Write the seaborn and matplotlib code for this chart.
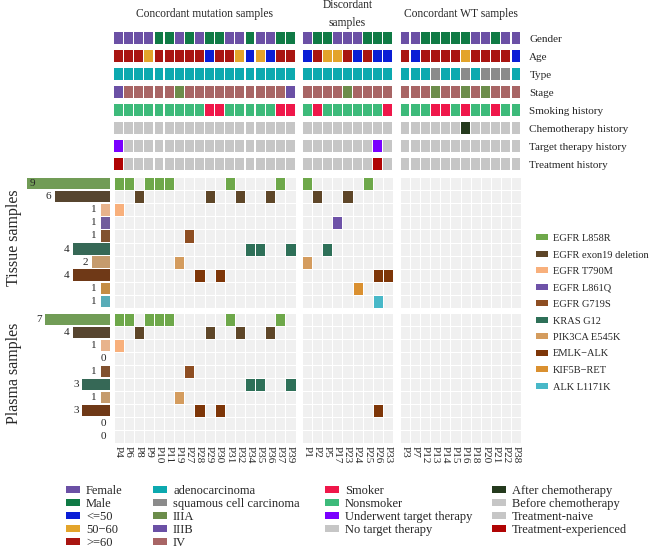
import numpy as np
import pandas as pd
import matplotlib
matplotlib.use("Agg")
import matplotlib.pyplot as plt
import seaborn as sns
from matplotlib.colors import ListedColormap
from matplotlib.patches import Patch

sns.set_theme(style="white")
plt.rcParams["font.family"] = ["Liberation Serif", "DejaVu Serif"]

# ---- samples -------------------------------------------------------------
group_names = ["Concordant mutation samples", "Discordant\nsamples", "Concordant WT samples"]
group_samples = [
    ["P4", "P6", "P8", "P9", "P10", "P11", "P19", "P27", "P28", "P29", "P30",
     "P31", "P32", "P34", "P35", "P36", "P37", "P39"],
    ["P1", "P2", "P5", "P17", "P23", "P24", "P25", "P26", "P33"],
    ["P3", "P7", "P12", "P13", "P14", "P15", "P16", "P18", "P20", "P21", "P22", "P38"],
]

# ---- clinical annotations (one code per sample, per group) -----------------
gender    = ["FFFFMMFMFMMFFMFFMM", "FMMFFFMMM", "FFMMMMMFFMFF"]
age       = ["HHHMHHHHHLHHMLMLHH", "LHMMHLHLL", "HLHHHHMHHHHL"]
histology = ["AAAAAAAAAAAAAAAAAA", "AAAAAAAAA", "AAASAASASSSA"]
stage     = ["bcccccaccccccccccb", "ccccacccc", "cccaccacaccc"]
smoking   = ["NNNNNNNNNSSNNNNNSS", "NSNNNNNNS", "NNNSSNSNNSNN"]
chemo     = ["BBBBBBBBBBBBBBBBBB", "BBBBBBBBB", "BBBBBBABBBBB"]
target    = ["UNNNNNNNNNNNNNNNNN", "NNNNNNNUN", "NNNNNNNNNNNN"]
treatment = ["ENNNNNNNNNNNNNNNNN", "NNNNNNNEN", "NNNNNNNNNNNN"]

clin_rows = ["Gender", "Age", "Type", "Stage", "Smoking history",
             "Chemotherapy history", "Target therapy history", "Treatment history"]
clin_data = [gender, age, histology, stage, smoking, chemo, target, treatment]

grey = "#C6C6C6"
clin_colors = [
    {"F": ("Female", "#6B50A5"), "M": ("Male", "#0F7A45")},
    {"L": ("<=50", "#0A1ED6"), "M": ("50\u221260", "#E3A42B"), "H": (">=60", "#A91511")},
    {"A": ("adenocarcinoma", "#0CA9AF"), "S": ("squamous cell carcinoma", "#8B8B8B")},
    {"a": ("IIIA", "#6C8D4B"), "b": ("IIIB", "#6B50A5"), "c": ("IV", "#A86565")},
    {"S": ("Smoker", "#EF174A"), "N": ("Nonsmoker", "#3DBA7A")},
    {"A": ("After chemotherapy", "#243A1D"), "B": ("Before chemotherapy", grey)},
    {"U": ("Underwent target therapy", "#7A00FF"), "N": ("No target therapy", grey)},
    {"N": ("Treatment-naive", grey), "E": ("Treatment-experienced", "#B00404")},
]

# ---- mutations -----------------------------------------------------------
mutations = ["EGFR L858R", "EGFR exon19 deletion", "EGFR T790M", "EGFR L861Q",
             "EGFR G719S", "KRAS G12", "PIK3CA E545K", "EMLK\u2212ALK",
             "KIF5B\u2212RET", "ALK L1171K"]
mut_colors = ["#6EA84A", "#5E4628", "#F8B07C", "#6E52A8", "#8E4E22",
              "#2E7058", "#D49C5E", "#7E3608", "#DA9030", "#48B8C8"]
tissue_hits = [
    ["P4", "P6", "P9", "P10", "P11", "P31", "P37", "P1", "P25"],
    ["P8", "P29", "P32", "P36", "P2", "P23"],
    ["P4"],
    ["P17"],
    ["P27"],
    ["P34", "P35", "P39", "P5"],
    ["P19", "P1"],
    ["P28", "P30", "P26", "P33"],
    ["P24"],
    ["P26"],
]
plasma_hits = [
    ["P4", "P6", "P9", "P10", "P11", "P31", "P37"],
    ["P8", "P29", "P32", "P36"],
    ["P4"],
    [],
    ["P27"],
    ["P34", "P35", "P39"],
    ["P19"],
    ["P28", "P30", "P26"],
    [],
    [],
]

# ---- layout (pixels) -----------------------------------------------------
W, H = 650, 552
fig = plt.figure(figsize=(W / 100, H / 100), dpi=100)


def px_axes(x0, y0, x1, y1):
    return fig.add_axes([x0 / W, 1 - y1 / H, (x1 - x0) / W, (y1 - y0) / H])


group_x = [(113.5, 295.5), (302, 393), (400, 521)]
clin_y = (29, 173)
block_y = {"Tissue samples": (177, 308), "Plasma samples": (313, 443)}
bar_x = (21, 110)

bg_cmap = ListedColormap(["#F0F0F0"] + mut_colors)

# clinical tracks
for g, samples in enumerate(group_samples):
    ax = px_axes(group_x[g][0], clin_y[0], group_x[g][1], clin_y[1])
    n = len(samples)
    for i, codes in enumerate(clin_data):
        cols = [clin_colors[i][c][1] for c in codes[g]]
        ax.bar(np.arange(n), 0.7, bottom=i - 0.35, width=0.88, color=cols, linewidth=0)
    ax.set_xlim(-0.5, n - 0.5)
    ax.set_ylim(7.5, -0.5)
    ax.set_xticks([])
    sns.despine(ax=ax, left=True, bottom=True)
    if g == 2:
        ax.yaxis.tick_right()
        ax.set_yticks(range(len(clin_rows)))
        ax.set_yticklabels(clin_rows, fontsize=8)
        ax.tick_params(axis="y", length=0, pad=6)
    else:
        ax.set_yticks([])
    cx = (group_x[g][0] + group_x[g][1]) / 2
    fig.text(cx / W, 1 - 14 / H, group_names[g], ha="center", va="center",
             fontsize=8.3, linespacing=1.6)

# mutation blocks
for b, (block, hits) in enumerate([("Tissue samples", tissue_hits),
                                   ("Plasma samples", plasma_hits)]):
    y0, y1 = block_y[block]
    for g, samples in enumerate(group_samples):
        mat = pd.DataFrame(0, index=mutations, columns=samples)
        for m, hit in enumerate(hits):
            for s in hit:
                if s in samples:
                    mat.loc[mutations[m], s] = m + 1
        ax = px_axes(group_x[g][0], y0, group_x[g][1], y1)
        sns.heatmap(mat, cmap=bg_cmap, vmin=-0.5, vmax=len(mutations) + 0.5,
                    cbar=False, linewidths=0.7, linecolor="white", ax=ax,
                    xticklabels=samples if b == 1 else False, yticklabels=False)
        ax.set_xlabel("")
        ax.set_ylabel("")
        if b == 1:
            ax.tick_params(axis="x", length=0, pad=2, labelsize=8, labelrotation=270)

    # count bars
    counts = [len(h) for h in hits]
    bx = px_axes(bar_x[0], y0, bar_x[1], y1)
    sns.barplot(x=counts, y=mutations, hue=mutations, palette=mut_colors,
                orient="h", width=0.88, legend=False, ax=bx, linewidth=0)
    xmax = 9.63
    bx.set_xlim(xmax, 0)
    bx.set_ylim(len(mutations) - 0.5, -0.5)
    bx.set_xticks([])
    bx.set_yticks([])
    bx.set_xlabel("")
    bx.set_ylabel("")
    sns.despine(ax=bx, left=True, bottom=True)
    for i, v in enumerate(counts):
        if v + 1 > xmax:
            bx.text(v - 0.3, i, str(v), ha="left", va="center", fontsize=8)
        else:
            bx.text(v + 0.4, i, str(v), ha="right", va="center", fontsize=8)
    cy = (y0 + y1) / 2 - 5
    fig.text(14 / W, 1 - cy / H, block, rotation=90, ha="center", va="center",
             fontsize=11.5)

# mutation legend (right)
mut_handles = [Patch(facecolor=c, edgecolor="none", label=m)
               for m, c in zip(mutations, mut_colors)]
fig.legend(handles=mut_handles, loc="upper left", bbox_to_anchor=(536 / W, 1 - 234 / H),
           frameon=False, fontsize=7.5, handlelength=1.15, handleheight=0.55,
           handletextpad=0.5, labelspacing=0.72, borderpad=0, borderaxespad=0)

# clinical legends (bottom)
legend_cols = [
    [(0, "F"), (0, "M"), (1, "L"), (1, "M"), (1, "H")],
    [(2, "A"), (2, "S"), (3, "a"), (3, "b"), (3, "c")],
    [(4, "S"), (4, "N"), (6, "U"), (6, "N")],
    [(5, "A"), (5, "B"), (7, "N"), (7, "E")],
]
legend_x = [66, 153, 325, 492]
for x, entries in zip(legend_x, legend_cols):
    hs = [Patch(facecolor=clin_colors[r][c][1], edgecolor="none",
                label=clin_colors[r][c][0]) for r, c in entries]
    fig.legend(handles=hs, loc="upper left", bbox_to_anchor=(x / W, 1 - 485 / H),
               frameon=False, fontsize=9, handlelength=1.1, handleheight=0.5,
               handletextpad=0.5, labelspacing=0.08, borderpad=0, borderaxespad=0)

fig.savefig("out.png", dpi=100)
